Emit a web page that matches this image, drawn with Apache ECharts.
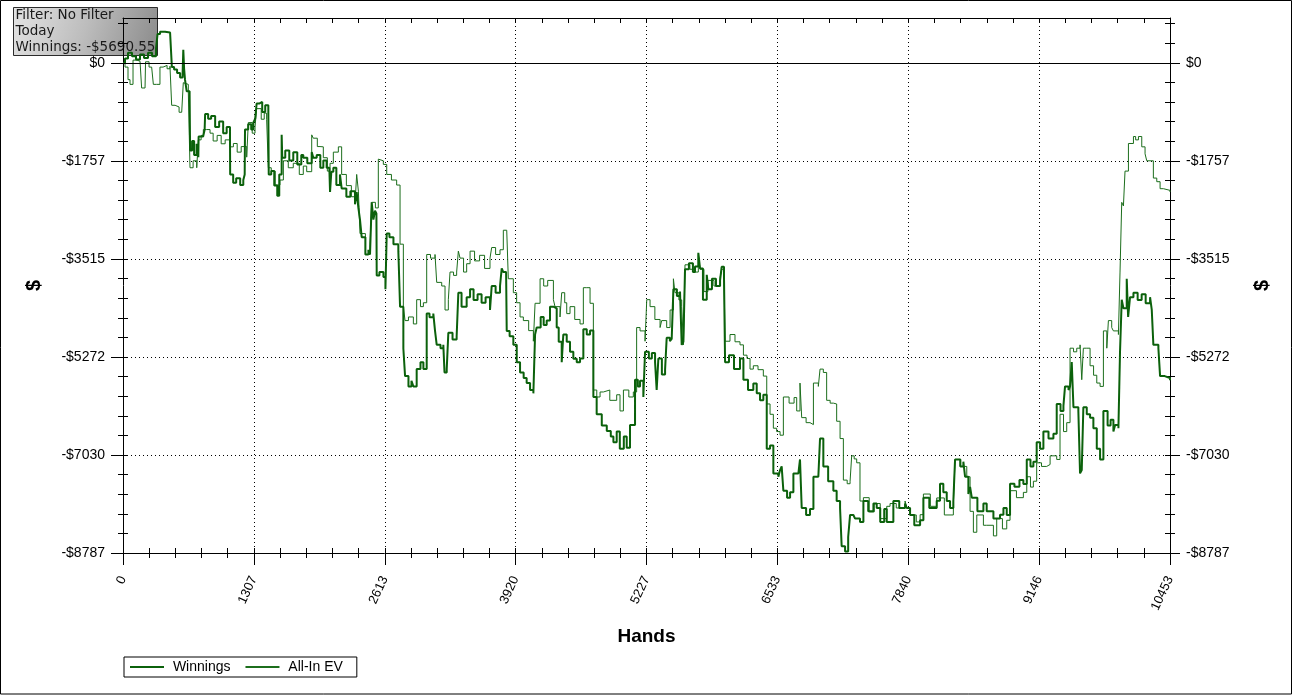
<!DOCTYPE html>
<html>
<head>
<meta charset="utf-8">
<script src="https://cdn.jsdelivr.net/npm/echarts@6/dist/echarts.min.js"></script>
<style>
html,body{margin:0;padding:0;background:#fff;}
#chart{width:1294px;height:696px;}
</style>
</head>
<body>
<div id="chart"></div>
<script>
// ---- Data (hands vs cumulative $) ----
const winHands = [0,20,50,90,130,170,210,250,290,330,345,370,420,470,484,488,510,540,570,595,602,610,619,636,665,670,690,710,735,752,755,800,815,820,850,880,920,960,1000,1035,1068,1070,1100,1130,1170,1201,1215,1218,1250,1280,1301,1320,1334,1360,1390,1420,1451,1455,1480,1510,1540,1560,1584,1590,1620,1660,1700,1740,1780,1800,1840,1884,1900,1934,1970,2000,2033,2060,2067,2080,2100,2130,2166,2183,2230,2270,2316,2333,2350,2366,2383,2420,2450,2466,2483,2500,2516,2530,2533,2560,2600,2620,2633,2660,2700,2749,2766,2799,2816,2850,2880,2899,2932,2970,2999,3032,3060,3098,3115,3132,3170,3198,3210,3232,3248,3290,3331,3348,3380,3431,3465,3500,3540,3580,3620,3664,3681,3720,3764,3781,3797,3825,3831,3860,3897,3931,3964,4000,4030,4064,4097,4114,4130,4170,4200,4230,4263,4297,4330,4350,4380,4396,4430,4463,4496,4530,4563,4596,4630,4663,4696,4729,4780,4830,4870,4896,4929,4960,5000,5029,5062,5112,5140,5162,5195,5212,5250,5280,5312,5328,5345,5380,5412,5428,5460,5478,5495,5530,5561,5578,5595,5611,5650,5690,5711,5744,5761,5790,5828,5844,5880,5920,5961,5977,6000,6011,6050,6100,6160,6194,6240,6293,6327,6360,6393,6427,6460,6493,6543,6560,6576,6593,6630,6660,6693,6743,6759,6776,6820,6859,6893,6942,6959,6992,7040,7092,7125,7159,7175,7209,7240,7259,7292,7309,7358,7392,7440,7492,7525,7560,7600,7625,7658,7691,7750,7808,7825,7858,7900,7958,7991,8050,8124,8157,8190,8224,8257,8290,8307,8324,8360,8390,8407,8440,8457,8474,8530,8590,8623,8690,8756,8790,8823,8856,8900,8950,8989,9023,9060,9089,9122,9156,9189,9240,9289,9322,9360,9389,9405,9440,9455,9472,9489,9538,9555,9572,9588,9622,9655,9688,9722,9755,9788,9830,9860,9888,9905,9938,9954,9971,9988,10021,10035,10054,10088,10130,10170,10210,10254,10271,10287,10337,10354,10400,10453];
const winValues = [0,80,180,120,60,150,90,180,120,260,520,560,545,560,535,-75,-120,-180,-260,-200,236,-100,-300,-510,-570,-1570,-1400,-1650,-1450,-1690,-1320,-1320,-1200,-915,-1000,-950,-1150,-1050,-1260,-1150,-1260,-2000,-2150,-2070,-2190,-2100,-2000,-1195,-1100,-1195,-1070,-1000,-730,-700,-880,-760,-885,-2000,-1940,-2200,-2380,-2000,-1290,-1700,-1570,-1750,-1600,-1820,-1650,-1700,-1800,-1600,-1700,-1650,-1880,-1750,-1880,-1880,-2315,-1950,-1880,-2190,-2000,-2250,-2400,-2300,-2530,-2315,-2600,-2810,-3125,-3435,-3350,-3435,-2500,-2810,-2650,-2700,-3810,-3750,-3840,-4060,-3060,-3125,-3250,-3375,-4370,-5120,-5615,-5800,-5700,-5800,-5490,-5365,-5490,-4495,-4560,-4495,-4800,-5055,-5115,-5055,-5550,-5490,-4840,-4960,-4900,-4120,-4370,-4200,-4060,-4250,-4150,-4300,-4200,-4430,-4000,-4120,-4000,-3685,-3750,-3800,-4805,-4900,-5055,-5365,-5550,-5650,-5740,-5865,-5925,-4870,-4745,-4555,-4700,-4620,-4370,-4400,-4745,-5000,-5365,-4870,-5000,-5180,-5305,-5365,-5300,-4775,-4870,-4800,-5990,-6300,-6500,-6600,-6700,-6800,-6610,-6920,-6700,-6900,-6490,-5680,-5800,-5700,-5990,-5180,-5300,-5200,-5365,-5865,-5300,-5585,-5500,-4930,-4990,-4950,-4060,-4180,-4100,-5055,-5000,-3700,-3590,-3750,-3650,-3405,-3685,-4245,-3800,-4060,-3870,-4000,-3900,-3655,-3800,-5365,-5240,-5490,-5300,-5680,-5865,-5750,-5925,-6050,-5950,-6920,-6860,-7360,-7420,-7300,-7235,-7670,-7795,-7700,-7360,-7360,-7110,-7980,-8105,-8000,-7420,-7420,-6735,-7235,-7500,-7670,-7855,-7980,-8665,-8760,-8500,-8105,-8105,-8170,-8230,-7855,-8040,-7900,-7980,-8230,-8000,-8230,-8230,-7855,-7980,-7900,-7980,-8105,-8290,-8200,-7795,-7980,-7850,-7545,-7700,-7855,-7980,-7855,-7110,-7110,-7235,-7150,-7420,-7730,-7600,-7795,-8040,-7900,-8040,-8170,-8100,-7980,-8105,-7545,-7600,-7480,-7550,-7110,-7235,-7150,-6800,-6920,-6610,-6735,-6650,-6115,-6240,-6150,-5800,-5865,-5800,-5365,-6175,-6240,-7360,-7300,-6175,-6300,-6360,-6550,-6920,-7110,-6240,-6500,-6400,-6610,-6490,-6550,-5180,-4245,-4400,-3870,-4555,-4200,-4120,-4250,-4150,-4310,-4200,-4430,-5055,-5115,-5615,-5650,-5690.55];

const evHands = [0,20,50,70,86,100,140,170,186,220,225,260,286,303,336,369,400,440,469,486,520,560,586,602,619,652,669,700,736,752,780,802,835,869,900,940,980,1020,1068,1102,1140,1180,1235,1251,1290,1318,1334,1380,1410,1434,1451,1480,1520,1567,1601,1650,1700,1760,1800,1834,1884,1900,1940,1967,2000,2040,2067,2100,2150,2166,2183,2230,2280,2316,2333,2350,2366,2420,2466,2483,2520,2549,2566,2599,2633,2680,2732,2749,2766,2799,2816,2850,2899,2932,2970,2999,3032,3070,3115,3132,3182,3215,3248,3265,3300,3331,3348,3365,3400,3431,3465,3510,3560,3610,3664,3681,3720,3764,3797,3831,3847,3897,3930,3964,3997,4050,4097,4114,4164,4200,4240,4297,4313,4363,4380,4410,4430,4463,4510,4563,4596,4630,4663,4696,4730,4763,4796,4860,4929,4962,4996,5050,5095,5128,5162,5212,5229,5262,5310,5362,5378,5428,5462,5495,5511,5550,5578,5595,5611,5660,5711,5744,5761,5800,5840,5900,5961,5977,6000,6011,6060,6110,6160,6194,6230,6260,6293,6340,6393,6427,6460,6493,6526,6560,6593,6650,6700,6726,6759,6776,6820,6859,6893,6942,6959,6992,7025,7060,7092,7125,7159,7192,7230,7259,7275,7300,7325,7358,7392,7450,7500,7560,7625,7658,7720,7808,7825,7858,7920,7958,7991,8060,8124,8200,8290,8307,8357,8424,8457,8490,8524,8590,8623,8690,8723,8780,8823,8856,8920,8989,9023,9060,9089,9122,9170,9222,9256,9322,9355,9390,9422,9455,9490,9522,9555,9572,9588,9622,9655,9690,9722,9755,9788,9822,9838,9871,9888,9938,9954,9971,9988,10004,10021,10038,10054,10088,10110,10138,10171,10204,10221,10254,10287,10321,10354,10387,10453];
const evValues = [0,-75,-300,-385,-385,50,30,50,-450,-450,20,-75,-40,-385,-385,-75,-45,-105,-60,-760,-790,-885,-850,-355,-385,-510,-1880,-1755,-1880,-1380,-1300,-1195,-1195,-1260,-1400,-1300,-1450,-1380,-1505,-1445,-1600,-1500,-1690,-1070,-1260,-1150,-820,-1010,-900,-1010,-1880,-1940,-2190,-2100,-1755,-1880,-1800,-2000,-1850,-1950,-1290,-1350,-1500,-1505,-1700,-1940,-1800,-1600,-1505,-1505,-2000,-2200,-2400,-2535,-2000,-2300,-3060,-3435,-3250,-2500,-2600,-1725,-1755,-1820,-2000,-2100,-2190,-2190,-3250,-4370,-4620,-4555,-4680,-4245,-4370,-4300,-3435,-3500,-3435,-3935,-4000,-4430,-4245,-3750,-3810,-3750,-3375,-3500,-3750,-3600,-3375,-3550,-3450,-3685,-3500,-3310,-3435,-3350,-3000,-3000,-3870,-4120,-4300,-4555,-4620,-4800,-4990,-4310,-3870,-4000,-3900,-4245,-4370,-4555,-4120,-4300,-4495,-4370,-4600,-4680,-4030,-4030,-4310,-5865,-5990,-5900,-5865,-6050,-5950,-6240,-5865,-5990,-5900,-4745,-4805,-4990,-4245,-4370,-4600,-4745,-4620,-4745,-4430,-3870,-4120,-4250,-4370,-5055,-3620,-3700,-3750,-3435,-3700,-4100,-3900,-4000,-3850,-3700,-3800,-4990,-4870,-5000,-5055,-5240,-5300,-5490,-5430,-5500,-5615,-6115,-6300,-6550,-6610,-6675,-5990,-6100,-6000,-6240,-5740,-6360,-6450,-6485,-5740,-5800,-5490,-5550,-6050,-6100,-6115,-6425,-6735,-7480,-7545,-7500,-7045,-7100,-7170,-7855,-7795,-8050,-7900,-8170,-7950,-7900,-7980,-7855,-7980,-8105,-8230,-8100,-7730,-7950,-7800,-8105,-7900,-7110,-7235,-7420,-8040,-8415,-8105,-8290,-8290,-8480,-8170,-8355,-8200,-7670,-7795,-7700,-7420,-7605,-7500,-7170,-7235,-7200,-7045,-7110,-6300,-6610,-6450,-5115,-5180,-5115,-5055,-5680,-5115,-5115,-5430,-5600,-5740,-5800,-4805,-5115,-4620,-4745,-4805,-4870,-3750,-2500,-2565,-1940,-1940,-1445,-1445,-1320,-1380,-1320,-1505,-1630,-1755,-1755,-2065,-2130,-2255,-2285,-2315];

const xTickLabels = ['0','1307','2613','3920','5227','6533','7840','9146','10453'];
const yTickLabels = ['$0','-$1757','-$3515','-$5272','-$7030','-$8787'];
const seriesNames = ['Winnings','All-In EV'];
const infoLines = ['Filter: No Filter','Today','Winnings: -$5690.55'];

const X_MIN = 0, X_MAX = 10453, X_STEP = 1306.625;
const Y_MIN = -8787, Y_MAX = 805, Y_STEP = 1757.4;
const yMajor = yTickLabels.map((_, i) => -i * Y_STEP);

const chart = echarts.init(document.getElementById('chart'), null, {renderer:'canvas'});
const FONT = '"Liberation Sans", Arial, sans-serif';

function xFmt(v){
  const i = Math.round(v / X_STEP);
  if (Math.abs(v - i*X_STEP) > 1) return '';
  return xTickLabels[i] || '';
}
function yFmt(v){
  const i = Math.round(-v / Y_STEP);
  if (i < 0 || Math.abs(v + i*Y_STEP) > 1) return '';
  return yTickLabels[i] || '';
}
const blk = {color:'#000', width:1};
function xAx(extra){
  return Object.assign({
    type:'value', min:X_MIN, max:X_MAX, interval:X_STEP,
    axisLine:{show:false, onZero:false, lineStyle:blk},
    axisTick:{show:true, length:5, inside:true, lineStyle:blk},
    minorTick:{show:true, splitNumber:5, length:5, lineStyle:blk},
    axisLabel:{show:false}, splitLine:{show:false}
  }, extra);
}
function yAx(extra){
  return Object.assign({
    type:'value', min:Y_MIN, max:Y_MAX, interval:Y_STEP,
    axisLine:{show:false, onZero:false, lineStyle:blk},
    axisTick:{show:true, length:5, inside:true, lineStyle:blk},
    minorTick:{show:true, splitNumber:5, length:5, lineStyle:blk},
    axisLabel:{show:false}, splitLine:{show:false}
  }, extra);
}
const dotted = {show:true, lineStyle:{color:'#000', width:1, type:[1,3]}};

const option = {
  animation:false,
  backgroundColor:'#fff',
  grid:{left:123, right:124, top:18, bottom:143, containLabel:false},
  xAxis:[
    xAx({position:'bottom', axisLine:{show:true,onZero:false,lineStyle:blk},
      axisTick:{show:true,length:12,inside:false,lineStyle:blk},
      axisLabel:{show:true, rotate:65, margin:24, fontSize:13, fontFamily:FONT, color:'#000', formatter:xFmt, showMinLabel:true, showMaxLabel:true},
      splitLine:dotted,
      name:'Hands', nameLocation:'middle', nameGap:74,
      nameTextStyle:{fontSize:19, fontWeight:'bold', fontFamily:FONT, color:'#000'}}),
    xAx({position:'bottom'}),
    xAx({position:'top', axisLine:{show:true,onZero:false,lineStyle:blk}})
  ],
  yAxis:[
    yAx({position:'left', axisLine:{show:true,onZero:false,lineStyle:blk},
      axisTick:{show:true,length:12,inside:false,lineStyle:blk, customValues:yMajor},
      axisLabel:{show:true, margin:18, fontSize:14, fontFamily:FONT, color:'#000', formatter:yFmt, showMaxLabel:false},
      splitLine:dotted,
      name:'$', nameLocation:'middle', nameGap:79,
      nameTextStyle:{fontSize:20, fontWeight:'bold', fontFamily:FONT, color:'#000'}}),
    yAx({position:'left'}),
    yAx({position:'right', axisLine:{show:true,onZero:false,lineStyle:blk},
      axisTick:{show:true,length:10,inside:false,lineStyle:blk, customValues:yMajor},
      axisLabel:{show:true, margin:16, fontSize:14, fontFamily:FONT, color:'#000', formatter:yFmt, showMaxLabel:false},
      name:'$', nameLocation:'middle', nameGap:82,
      nameTextStyle:{fontSize:20, fontWeight:'bold', fontFamily:FONT, color:'#000'}}),
    yAx({position:'right'})
  ],
  legend:{
    data:[seriesNames[0], seriesNames[1]],
    left:124, top:657, orient:'horizontal',
    padding:[3,14,3,5], itemGap:14, itemWidth:34, itemHeight:14,
    borderColor:'#000', borderWidth:1, backgroundColor:'#fff',
    itemStyle:{opacity:0},
    formatter: n => ' ' + n,
    textStyle:{fontSize:14, fontFamily:FONT, color:'#000'},
    selectedMode:false
  },
  series:[
    {
      name:seriesNames[1], type:'line', xAxisIndex:0, yAxisIndex:0,
      data: evHands.map((h,i)=>[h, evValues[i]]),
      symbol:'none', showSymbol:false, smooth:false, step:'end',
      lineStyle:{color:'#1c6e1c', width:1}, itemStyle:{color:'#1c6e1c'},
      z:3,
      markLine:{
        silent:true, symbol:'none', animation:false,
        label:{show:false},
        lineStyle:{color:'#000', type:'solid', width:1},
        data:[{yAxis:0}]
      }
    },
    {
      name:seriesNames[0], type:'line', xAxisIndex:0, yAxisIndex:0,
      data: winHands.map((h,i)=>[h, winValues[i]]),
      symbol:'none', showSymbol:false, smooth:false, step:'end',
      lineStyle:{color:'#0b610b', width:2}, itemStyle:{color:'#0b610b'},
      z:4
    }
  ],
  graphic:[
    {type:'rect', z:200, silent:true, shape:{x:0.5,y:0.5,width:1291,height:693.5},
     style:{fill:'none', stroke:'#000', lineWidth:1}},
    {type:'group', left:13, top:7, z:300, silent:true, children:[
      {type:'rect', shape:{x:0,y:0,width:144,height:48},
       style:{fill:new echarts.graphic.LinearGradient(0,0,1,1,[{offset:0,color:'#e4e4e4'},{offset:0.5,color:'#bcbcbc'},{offset:1,color:'#8a8a8a'}]),
              stroke:'#2b2b2b', lineWidth:1}},
      {type:'text', x:2, y:8, style:{text:infoLines[0], font:'13.5px "DejaVu Sans", sans-serif', fill:'#1a1a1a', verticalAlign:'middle'}},
      {type:'text', x:2, y:23.5, style:{text:infoLines[1], font:'13.5px "DejaVu Sans", sans-serif', fill:'#1a1a1a', verticalAlign:'middle'}},
      {type:'text', x:2, y:39.5, style:{text:infoLines[2], font:'13.5px "DejaVu Sans", sans-serif', fill:'#1a1a1a', verticalAlign:'middle'}}
    ]}
  ]
};
chart.setOption(option);
</script>
</body>
</html>
